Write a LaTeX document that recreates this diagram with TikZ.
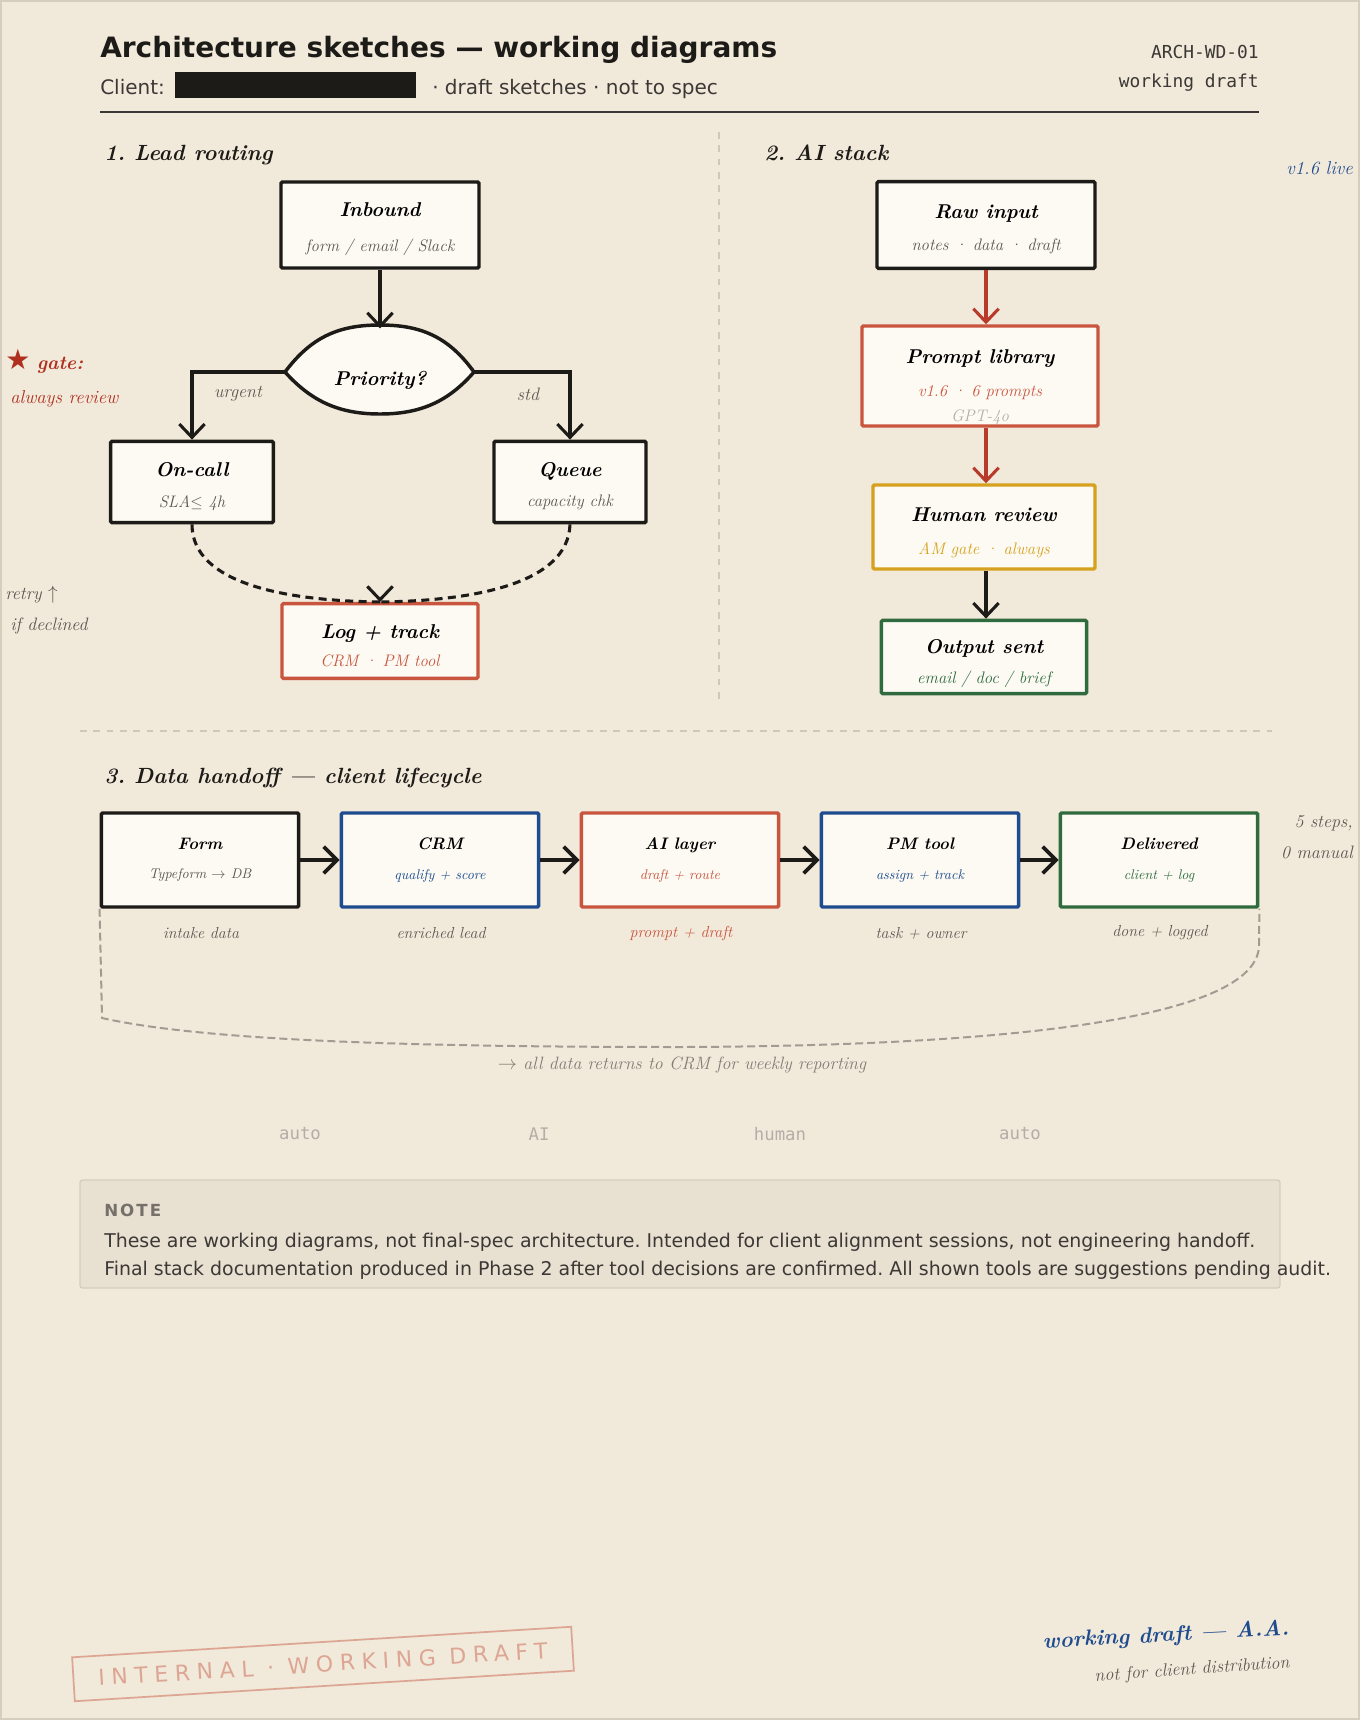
\documentclass[tikz,border=0pt]{standalone}
\usepackage{fontspec}
\newfontfamily\sansfont{DejaVu Sans}
\newfontfamily\monofont{DejaVu Sans Mono}
\newfontfamily\stampfont{DejaVu Sans}[LetterSpace=30]
\newfontfamily\labelfont{DejaVu Sans}[LetterSpace=12]
\usetikzlibrary{arrows.meta,positioning}

\definecolor{paper}{HTML}{F1E9DA}
\definecolor{boxfill}{HTML}{FCFAF3}
\definecolor{ink}{HTML}{1D1B18}
\definecolor{darkgray}{HTML}{3B3835}
\definecolor{graytext}{HTML}{5C5750}
\definecolor{lightgray}{HTML}{B3AEA6}
\definecolor{loopgray}{HTML}{A39B91}
\definecolor{divider}{HTML}{CFC7BA}
\definecolor{boxred}{HTML}{C9553F}
\definecolor{arrowred}{HTML}{B83A2B}
\definecolor{gatered}{HTML}{B0301F}
\definecolor{gold}{HTML}{D6A11E}
\definecolor{green}{HTML}{2F6B3E}
\definecolor{inkblue}{HTML}{1F4C8F}
\definecolor{notefill}{HTML}{E8E0D1}
\definecolor{noteline}{HTML}{D6CDBE}
\definecolor{stamp}{HTML}{DDA593}

\newcommand{\boxttl}[2][17pt]{{\fontsize{15}{18}\selectfont\bfseries\itshape\rule{0pt}{#1}#2}}
\newcommand{\boxsub}[2]{{\fontsize{12.5}{15}\selectfont\itshape\color{#1}#2}}
\newcommand{\flowttl}[1]{{\fontsize{12.5}{15}\selectfont\bfseries\itshape #1}}
\newcommand{\flowsub}[2]{{\fontsize{10.5}{12}\selectfont\itshape\color{#1}#2}}

\begin{document}
\frenchspacing
\begin{tikzpicture}[x=0.75pt,y=-0.75pt,
  box/.style={draw=ink,line width=2.6pt,fill=boxfill,inner sep=0pt,align=center,rounded corners=1pt},
  flow/.style={draw=ink,line width=2.3pt,-{Straight Barb[length=10pt,width=19pt,line width=2.3pt]}},
  bigflow/.style={draw=ink,line width=3pt,-{Straight Barb[length=10pt,width=20pt,line width=2.8pt]}},
  redflow/.style={flow,draw=arrowred},
  back/.style={draw=ink,line width=2.3pt,dash pattern=on 6pt off 4pt},
  loop/.style={draw=loopgray,line width=1.5pt,dash pattern=on 6pt off 3pt},
  txt/.style={inner sep=0pt},
  hand/.style={font=\fontsize{13.5}{16}\selectfont\itshape,text=graytext},
  flowlbl/.style={font=\fontsize{12}{14}\selectfont\itshape,text=graytext},
  mode/.style={font=\monofont\fontsize{13}{15}\selectfont,text=lightgray},
  sect/.style={txt,anchor=base west,font=\fontsize{16.5}{20}\selectfont\bfseries\itshape,text=ink}]
\useasboundingbox (0,0) rectangle (1360,1720);
\fill[paper] (0,0) rectangle (1360,1720);
\draw[noteline,line width=1.5pt] (1,1) rectangle (1359,1719);
%%%%%%%%%%%%%%%% header
\node[txt,anchor=base west,font=\sansfont\bfseries\fontsize{21}{25}\selectfont,text=ink] (title) at (100,58) {Architecture sketches — working diagrams};
\node[txt,anchor=base west,font=\sansfont\fontsize{15}{18}\selectfont,text=darkgray] (client) at (100,94) {Client:};
\node[fill=ink,inner sep=0pt,minimum width=180.75pt,minimum height=19.5pt] (redact) at (295.5,85) {};
\node[txt,anchor=base west,font=\sansfont\fontsize{15}{18}\selectfont,text=darkgray] (spec) at (432,94) {· draft sketches · not to spec};
\node[txt,anchor=base east,font=\monofont\fontsize{13.4}{16}\selectfont,text=darkgray] (docid) at (1259,59) {ARCH-WD-01};
\node[txt,anchor=base east,font=\monofont\fontsize{13.4}{16}\selectfont,text=darkgray] (status) at (1259,88) {working draft};
\draw[darkgray,line width=1.5pt] (100,112) -- (1259,112);
\draw[divider,line width=1pt,dash pattern=on 5pt off 5pt] (719,132) -- (719,702);
\draw[divider,line width=1pt,dash pattern=on 5pt off 5pt] (80,731) -- (1272,731);
%%%%%%%%%%%%%%%% 1. lead routing
\node[sect] (sec1) at (104,160) {1. Lead routing};
\node[box,minimum width=148.5pt,minimum height=64.5pt] (inbound) at (380,225) {\boxttl{Inbound}\\[14pt]\boxsub{graytext}{form / email / Slack}};
\draw[ink,line width=2.6pt,fill=boxfill] (285,372) .. controls (312,336) and (340,325) .. (380,325) .. controls (420,325) and (448,336) .. (474,372) .. controls (448,402) and (420,414) .. (380,414) .. controls (340,414) and (312,402) .. cycle;
\node[inner sep=0pt,minimum width=141.75pt,minimum height=65pt] (prio) at (380,372) {\raisebox{-10pt}[0pt][0pt]{\boxttl[0pt]{Priority?}}};
\node[box,minimum width=122pt,minimum height=61pt] (oncall) at (192,482) {\boxttl{On-call}\\[11pt]\boxsub{graytext}{SLA$\leq$ 4h}};
\node[box,minimum width=114pt,minimum height=61pt] (queue) at (570,482) {\boxttl{Queue}\\[11pt]\boxsub{graytext}{capacity chk}};
\node[box,draw=boxred,minimum width=147pt,minimum height=56pt] (log) at (380,641) {\boxttl{Log + track}\\[9pt]\boxsub{boxred}{CRM · PM tool}};
\draw[flow] (inbound) -- (prio.north);
\draw[flow] (prio.west) -| (oncall.north);
\draw[flow] (prio.east) -| (queue.north);
\draw[back] (oncall.south) .. controls (192,585) and (290,601) .. (log.north);
\draw[back] (queue.south) .. controls (568,585) and (470,601) .. (log.north);
\draw[flow] ([yshift=3pt]log.north) -- (log.north);
\node[hand] (urgent) at (238,394) {urgent};
\node[hand] (std) at (528,394) {std};
\node[txt,anchor=base west,font=\fontsize{14.5}{16}\selectfont\bfseries\itshape,text=gatered] (gate) at (5,369) {{\sansfont\fontsize{21}{22}\selectfont ★}\,\,gate:};
\node[txt,anchor=base west,font=\fontsize{14}{16}\selectfont\itshape,text=gatered] (gatesub) at (10,403) {always review};
\node[txt,anchor=base west,hand] (retry) at (5,599) {retry $\uparrow$};
\node[txt,anchor=base west,hand] (declined) at (10,630) {if declined};
%%%%%%%%%%%%%%%% 2. AI stack
\node[sect] (sec2) at (764,160) {2. AI stack};
\node[txt,anchor=base east,font=\fontsize{14}{16}\selectfont\itshape,text=inkblue] (live) at (1353,174) {v1.6 live};
\node[box,minimum width=163.5pt,minimum height=65pt] (raw) at (986,225) {\boxttl{Raw input}\\[12pt]\boxsub{graytext}{notes · data · draft}};
\node[box,draw=boxred,minimum width=177pt,minimum height=75pt] (prompt) at (980,376) {\boxttl[27pt]{Prompt library}\\[12.5pt]\boxsub{boxred}{v1.6 · 6 prompts}\\[7pt]\boxsub{lightgray}{GPT-4o}};
\node[box,draw=gold,minimum width=166.5pt,minimum height=63pt] (human) at (984,527) {\boxttl[19pt]{Human review}\\[13pt]\boxsub{gold}{AM gate · always}};
\node[box,draw=green,minimum width=154pt,minimum height=55pt] (output) at (984,657) {\boxttl[20pt]{Output sent}\\[9pt]\boxsub{green}{email / doc / brief}};
\draw[redflow] (raw.south) -- (raw.south |- prompt.north);
\draw[redflow] (raw.south |- prompt.south) -- (raw.south |- human.north);
\draw[flow] (raw.south |- human.south) -- (raw.south |- output.north);
%%%%%%%%%%%%%%%% 3. data handoff
\node[sect] (sec3) at (104,783) {3. Data handoff — client lifecycle};
\node[box,minimum width=148pt,minimum height=70.5pt] (form) at (200,860) {\flowttl{Form}\\[10pt]\flowsub{graytext}{Typeform $\rightarrow$ DB}};
\node[box,draw=inkblue,minimum width=148pt,minimum height=70.5pt] (crm) at (440,860) {\flowttl{CRM}\\[10pt]\flowsub{inkblue}{qualify + score}};
\node[box,draw=boxred,minimum width=148pt,minimum height=70.5pt] (ailayer) at (680,860) {\flowttl{AI layer}\\[10pt]\flowsub{boxred}{draft + route}};
\node[box,draw=inkblue,minimum width=148pt,minimum height=70.5pt] (pmtool) at (920,860) {\flowttl{PM tool}\\[10pt]\flowsub{inkblue}{assign + track}};
\node[box,draw=green,minimum width=148pt,minimum height=70.5pt] (deliv) at (1159,860) {\flowttl{Delivered}\\[10pt]\flowsub{green}{client + log}};
\draw[bigflow] (form) -- (crm);
\draw[bigflow] (crm) -- (ailayer);
\draw[bigflow] (ailayer) -- (pmtool);
\draw[bigflow] (pmtool) -- (deliv);
\node[flowlbl] (formlbl) at (201,933) {intake data};
\node[flowlbl] (crmlbl) at (441,933) {enriched lead};
\node[flowlbl,text=boxred] (ailbl) at (681,933) {prompt + draft};
\node[flowlbl] (pmlbl) at (921,933) {task + owner};
\node[flowlbl] (delivlbl) at (1160,933) {done + logged};
\draw[loop] (form.south west) -- (102,1018) .. controls (200,1040) and (400,1047) .. (680,1047) .. controls (1000,1046) and (1259,1020) .. (1259,945) -- (deliv.south east);
\node[font=\fontsize{13.4}{16}\selectfont\itshape,text=loopgray!80!black] (returns) at (682,1065) {$\rightarrow$ all data returns to CRM for weekly reporting};
\node[txt,anchor=base east,hand] (steps) at (1353,827) {5 steps,};
\node[txt,anchor=base east,hand] (manual) at (1353,858) {0 manual};
\node[mode] (mode1) at (300,1134) {auto};
\node[mode] (mode2) at (539,1134) {AI};
\node[mode] (mode3) at (780,1134) {human};
\node[mode] (mode4) at (1020,1134) {auto};
%%%%%%%%%%%%%%%% note
\draw[noteline,fill=notefill,line width=1pt,rounded corners=2pt] (80,1180) rectangle (1280,1288);
\node[txt,anchor=base west,font=\labelfont\bfseries\fontsize{12.5}{14}\selectfont,text=graytext!85] (notehead) at (104,1216) {NOTE};
\node[txt,anchor=base west,font=\sansfont\fontsize{14.2}{17}\selectfont,text=darkgray] (note1) at (104,1247) {These are working diagrams, not final-spec architecture. Intended for client alignment sessions, not engineering handoff.};
\node[txt,anchor=base west,font=\sansfont\fontsize{14.2}{17}\selectfont,text=darkgray] (note2) at (104,1275) {Final stack documentation produced in Phase 2 after tool decisions are confirmed. All shown tools are suggestions pending audit.};
%%%%%%%%%%%%%%%% stamp + signature
\node[draw=stamp,line width=1.3pt,text=stamp,font=\stampfont\fontsize{16.5}{18}\selectfont,rotate=3.5,minimum width=375pt,minimum height=33pt,inner sep=0pt] (stampbox) at (323,1664) {INTERNAL · WORKING DRAFT};
\node[font=\fontsize{16.5}{20}\selectfont\bfseries\itshape,text=inkblue,rotate=3] (sig) at (1166,1636) {working draft — A.A.};
\node[font=\fontsize{13.5}{16}\selectfont\itshape,text=graytext,rotate=4] (sigsub) at (1192,1670) {not for client distribution};
\end{tikzpicture}
\end{document}
